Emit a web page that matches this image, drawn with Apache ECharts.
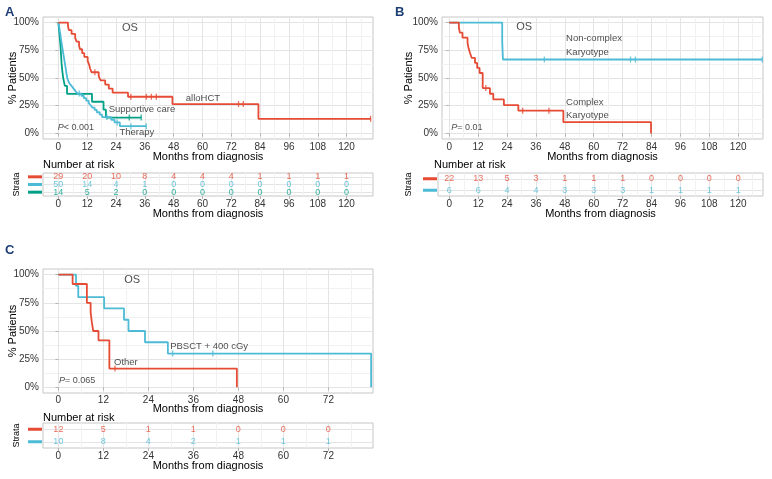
<!DOCTYPE html>
<html><head><meta charset="utf-8">
<script src="https://cdn.jsdelivr.net/npm/echarts@6/dist/echarts.min.js"></script>
<style>html,body{margin:0;padding:0;background:#fff}#c{width:772px;height:479px}</style>
</head><body><div id="c"></div>
<script>
// ---------------- data ----------------
const monthTicksLong = [0,12,24,36,48,60,72,84,96,108,120];
const monthMinorLong = [6,18,30,42,54,66,78,90,102,114,126];
const monthTicksShort = [0,12,24,36,48,60,72];
const monthMinorShort = [6,18,30,42,54,66,78];
const percentTicks = [0,25,50,75,100];
const percentMinor = [12.5,37.5,62.5,87.5];

// Panel A (OS by treatment)
const alloTime   = [0,4.0,4.4,5.5,7.0,7.6,8.6,9.0,9.9,10.8,12.2,12.8,13.2,13.8,16.8,17.6,19.5,21.0,22.6,29.0,47.5,83.3,130.0];
const alloSurv   = [100,96.6,93.1,89.7,86.2,82.8,79.3,75.9,72.4,69.0,65.5,62.1,58.6,55.2,51.5,47.8,44.1,40.5,36.8,33.1,26.5,13.2,13.2];
const alloCensor = [15.2,30.2,36.6,38.7,40.8,75.0,77.0,130.0];

const therTime   = [0,0.2,0.3,0.5,0.6,0.8,1.0,1.3,1.6,1.9,2.2,2.5,2.8,3.1,3.4,3.7,4.0,4.4,5.0,5.8,6.5,7.2,8.0,9.6,10.6,11.6,12.6,13.4,14.2,15.1,16.0,17.2,18.2,22.0,23.4,25.6,36.6];
const therSurv   = [100,98,96,94,92,90,86,82,78,74,70,66,62,58,54,50,48,46,44,42,40,38,36,33.9,31.8,29.6,27.5,25.4,23.3,21.2,19.1,16.9,14.8,12.3,9.9,6.6,6.6];
const therCensor = [8.7,20.2,24.5,30.2,36.6];

const suppTime   = [0,0.3,0.6,0.9,1.1,1.3,1.6,2.0,2.7,3.6,14.0,18.8,19.8,34.5];
const suppSurv   = [100,92.9,85.7,78.6,71.4,64.3,57.1,50.0,42.9,35.7,28.6,21.4,14.3,14.3];
const suppCensor = [29.5,34.5];

const riskAllo = [29,20,10,8,4,4,4,1,1,1,1];
const riskTher = [50,14,4,1,0,0,0,0,0,0,0];
const riskSupp = [14,5,2,0,0,0,0,0,0,0,0];

// Panel B (OS by karyotype)
const cxTime   = [0,4.0,4.4,5.5,7.6,8.0,8.6,9.3,10.7,11.6,12.6,13.9,16.9,18.3,22.7,28.7,47.4,83.8];
const cxSurv   = [100,95.5,90.9,86.4,81.8,77.3,72.7,68.2,63.6,59.1,54.5,40.9,35.8,30.7,25.6,20.5,10.2,0];
const cxCensor = [15.2,30.5,41.4];

const ncTime   = [0,22.0,22.3,130.0];
const ncSurv   = [100,83.3,66.7,66.7];
const ncCensor = [39.5,75.3,77.3,130.0];

const riskCx = [22,13,5,3,1,1,1,0,0,0,0];
const riskNc = [6,6,4,4,3,3,3,1,1,1,1];

// Panel C (OS by conditioning)
const othTime   = [0,3.8,7.6,8.6,8.9,9.3,10.7,13.6,47.6];
const othSurv   = [100,91.7,75.0,66.7,58.3,50.0,41.7,16.7,0];
const othCensor = [15.1];

const pbTime   = [0,4.7,5.3,12.2,17.5,18.7,23.1,29.2,83.4];
const pbSurv   = [100,90,80,70,60,50,40,30,0];
const pbCensor = [30.5,41.2];

const riskOth = [12,5,1,1,0,0,0];
const riskPb  = [10,8,4,2,1,1,1];

// ---------------- styles / builders ----------------
const F = '"Liberation Sans", Arial, Helvetica, sans-serif';
const RED = '#E64B35', BLUE = '#4DBBD5', GREEN = '#00A087';
const MAJ = '#e4e4e4', MIN = '#f1f1f1', BORDER = '#c6c6c6', TXT = '#333333';

function gridBox(left, top, width, height) {
  return {left, top, width, height, show: true, backgroundColor: '#fff', borderColor: BORDER, borderWidth: 1, containLabel: false};
}
function xMajor(gi, min, max, ticks, margin, gap) {
  return {type: 'value', gridIndex: gi, min, max, position: 'bottom',
    axisLine: {show: false},
    axisTick: {show: true, customValues: ticks, length: 3, lineStyle: {color: '#b3b3b3'}},
    axisLabel: {customValues: ticks, color: TXT, fontSize: 10, margin, fontFamily: F},
    splitLine: {show: true, lineStyle: {color: MAJ, width: 1}},
    name: 'Months from diagnosis', nameLocation: 'middle', nameGap: gap, nameMoveOverlap: false,
    nameTextStyle: {fontSize: 11, color: '#000', fontFamily: F}};
}
function xMinor(gi, min, max, ticks) {
  return {type: 'value', gridIndex: gi, min, max, position: 'bottom',
    axisLine: {show: false}, axisTick: {show: false, customValues: ticks},
    axisLabel: {show: false, customValues: ticks},
    splitLine: {show: true, lineStyle: {color: MIN, width: 1}}};
}
function yMajor(gi, gap) {
  return {type: 'value', gridIndex: gi, min: -5, max: 105,
    axisLine: {show: false},
    axisTick: {show: true, customValues: percentTicks, length: 3, lineStyle: {color: '#b3b3b3'}},
    axisLabel: {customValues: percentTicks, formatter: '{value}%', color: TXT, fontSize: 10, margin: 4, fontFamily: F},
    splitLine: {show: true, lineStyle: {color: MAJ, width: 1}},
    name: '% Patients', nameLocation: 'middle', nameRotate: 90, nameGap: gap, nameMoveOverlap: false,
    nameTextStyle: {fontSize: 11, color: '#000', fontFamily: F}};
}
function yMinor(gi) {
  return {type: 'value', gridIndex: gi, min: -5, max: 105,
    axisLine: {show: false}, axisTick: {show: false, customValues: percentMinor},
    axisLabel: {show: false, customValues: percentMinor},
    splitLine: {show: true, lineStyle: {color: MIN, width: 1}}};
}
function yTable(gi, colors, gap) {
  const rows = colors.map((c, i) => colors.length - i);
  const rich = {};
  colors.forEach((c, i) => { rich['s' + i] = {backgroundColor: c, width: 14, height: 3, lineHeight: 3, fontSize: 3}; });
  return {type: 'value', gridIndex: gi, min: 0.5, max: colors.length + 0.5,
    axisLine: {show: false},
    axisTick: {show: false, customValues: rows},
    axisLabel: {customValues: rows, margin: 1, rich,
      formatter: v => '{s' + (colors.length - Math.round(v)) + '| }'},
    splitLine: {show: true, lineStyle: {color: MAJ, width: 1}},
    name: 'Strata', nameLocation: 'middle', nameRotate: 90, nameGap: gap, nameMoveOverlap: false,
    nameTextStyle: {fontSize: 9, color: '#000', fontFamily: F}};
}
function km(xi, yi, times, surv, color) {
  return {type: 'line', xAxisIndex: xi, yAxisIndex: yi, step: 'end', symbol: 'none', silent: true,
    data: times.map((t, i) => [t, surv[i]]), lineStyle: {color, width: 1.8}, itemStyle: {color}, z: 3};
}
function censor(xi, yi, times, surv, cts, color) {
  const pts = cts.map(c => { let s = surv[0]; times.forEach((t, i) => { if (t <= c) s = surv[i]; }); return [c, s]; });
  return {type: 'scatter', xAxisIndex: xi, yAxisIndex: yi, symbol: 'rect', symbolSize: [1.3, 6], silent: true,
    data: pts, itemStyle: {color}, z: 4};
}
function risk(xi, yi, ticks, counts, row, color) {
  return {type: 'scatter', xAxisIndex: xi, yAxisIndex: yi, symbolSize: 0, silent: true,
    data: ticks.map((t, i) => [t, row, counts[i]]),
    label: {show: true, position: 'inside', formatter: p => String(p.value[2]), color, fontSize: 9, fontFamily: F}};
}
function notes(xi, yi, items) {
  return {type: 'scatter', xAxisIndex: xi, yAxisIndex: yi, symbolSize: 0, silent: true, z: 5,
    data: items.map(it => ({value: [it.x, it.y],
      label: {show: true, position: it.left ? 'right' : 'inside', distance: 0, align: it.left ? 'left' : 'center',
        formatter: it.t, fontSize: it.fs || 9.5, lineHeight: 13.5, color: '#1a1a1a', fontFamily: F,
        rich: {i: {fontStyle: 'italic', fontSize: it.fs || 9, fontFamily: F, color: '#1a1a1a'}}}}))};
}

const xA = [-6.4, 131.0], xB = [-3.0, 130.3], xBt = [-4.7, 130.3], xC = [-4.1, 83.9];
const letter = {fontSize: 13, fontWeight: 'bold', color: '#1d3e75', fontFamily: F};
const nar = {fontSize: 11, fontWeight: 'normal', color: '#000', fontFamily: F};

const option = {
  animation: false,
  backgroundColor: '#fff',
  textStyle: {fontFamily: F},
  title: [
    {text: 'A', left: 5, top: 6, padding: 0, textStyle: letter},
    {text: 'B', left: 395, top: 6, padding: 0, textStyle: letter},
    {text: 'C', left: 5, top: 244, padding: 0, textStyle: letter},
    {text: 'Number at risk', left: 43, top: 159, padding: 0, textStyle: nar},
    {text: 'Number at risk', left: 434, top: 159, padding: 0, textStyle: nar},
    {text: 'Number at risk', left: 43, top: 412, padding: 0, textStyle: nar}
  ],
  grid: [
    gridBox(43, 17, 330, 122),
    gridBox(43, 173, 330, 23),
    gridBox(442, 17, 321, 122),
    gridBox(438, 173, 325, 23),
    gridBox(43, 269, 330, 124),
    gridBox(43, 423, 330, 25)
  ],
  xAxis: [
    xMajor(0, xA[0], xA[1], monthTicksLong, 3, 12), xMinor(0, xA[0], xA[1], monthMinorLong),
    xMajor(1, xA[0], xA[1], monthTicksLong, 3, 12), xMinor(1, xA[0], xA[1], monthMinorLong),
    xMajor(2, xB[0], xB[1], monthTicksLong, 3, 12), xMinor(2, xB[0], xB[1], monthMinorLong),
    xMajor(3, xBt[0], xBt[1], monthTicksLong, 3, 12), xMinor(3, xBt[0], xBt[1], monthMinorLong),
    xMajor(4, xC[0], xC[1], monthTicksShort, 2, 10.5), xMinor(4, xC[0], xC[1], monthMinorShort),
    xMajor(5, xC[0], xC[1], monthTicksShort, 3, 12.5), xMinor(5, xC[0], xC[1], monthMinorShort)
  ],
  yAxis: [
    yMajor(0, 25), yMinor(0), yTable(1, [RED, BLUE, GREEN], 21.5),
    yMajor(2, 28), yMinor(2), yTable(3, [RED, BLUE], 25),
    yMajor(4, 25), yMinor(4), yTable(5, [RED, BLUE], 21.5)
  ],
  series: [
    // A
    km(0, 0, suppTime, suppSurv, GREEN), km(0, 0, therTime, therSurv, BLUE), km(0, 0, alloTime, alloSurv, RED),
    censor(0, 0, suppTime, suppSurv, suppCensor, GREEN), censor(0, 0, therTime, therSurv, therCensor, BLUE),
    censor(0, 0, alloTime, alloSurv, alloCensor, RED),
    notes(0, 0, [
      {t: 'OS', x: 29.8, y: 95.5, fs: 11},
      {t: 'alloHCT', x: 60.2, y: 31.5},
      {t: 'Supportive care', x: 34.8, y: 21.6},
      {t: 'Therapy', x: 32.7, y: 0.8},
      {t: '{i|P}< 0.001', x: 7.3, y: 5.7, fs: 9}
    ]),
    risk(2, 2, monthTicksLong, riskAllo, 3, RED), risk(2, 2, monthTicksLong, riskTher, 2, BLUE), risk(2, 2, monthTicksLong, riskSupp, 1, GREEN),
    // B
    km(4, 3, ncTime, ncSurv, BLUE), km(4, 3, cxTime, cxSurv, RED),
    censor(4, 3, ncTime, ncSurv, ncCensor, BLUE), censor(4, 3, cxTime, cxSurv, cxCensor, RED),
    notes(4, 3, [
      {t: 'OS', x: 31.1, y: 96.4, fs: 11},
      {t: 'Non-complex\nKaryotype', x: 48.5, y: 79.3, left: true},
      {t: 'Complex\nKaryotype', x: 48.5, y: 22.3, left: true},
      {t: '{i|P}= 0.01', x: 7.3, y: 5.7, fs: 9}
    ]),
    risk(6, 5, monthTicksLong, riskCx, 2, RED), risk(6, 5, monthTicksLong, riskNc, 1, BLUE),
    // C
    km(8, 6, pbTime, pbSurv, BLUE), km(8, 6, othTime, othSurv, RED),
    censor(8, 6, pbTime, pbSurv, pbCensor, BLUE), censor(8, 6, othTime, othSurv, othCensor, RED),
    notes(8, 6, [
      {t: 'OS', x: 19.7, y: 94.9, fs: 11},
      {t: 'PBSCT + 400 cGy', x: 40.2, y: 36.6},
      {t: 'Other', x: 18.0, y: 22.0},
      {t: '{i|P}= 0.065', x: 5.0, y: 6.2, fs: 9}
    ]),
    risk(10, 8, monthTicksShort, riskOth, 2, RED), risk(10, 8, monthTicksShort, riskPb, 1, BLUE)
  ]
};

const chart = echarts.init(document.getElementById('c'), null, {renderer: 'canvas', width: 772, height: 479});
chart.setOption(option);
</script>
</body></html>
